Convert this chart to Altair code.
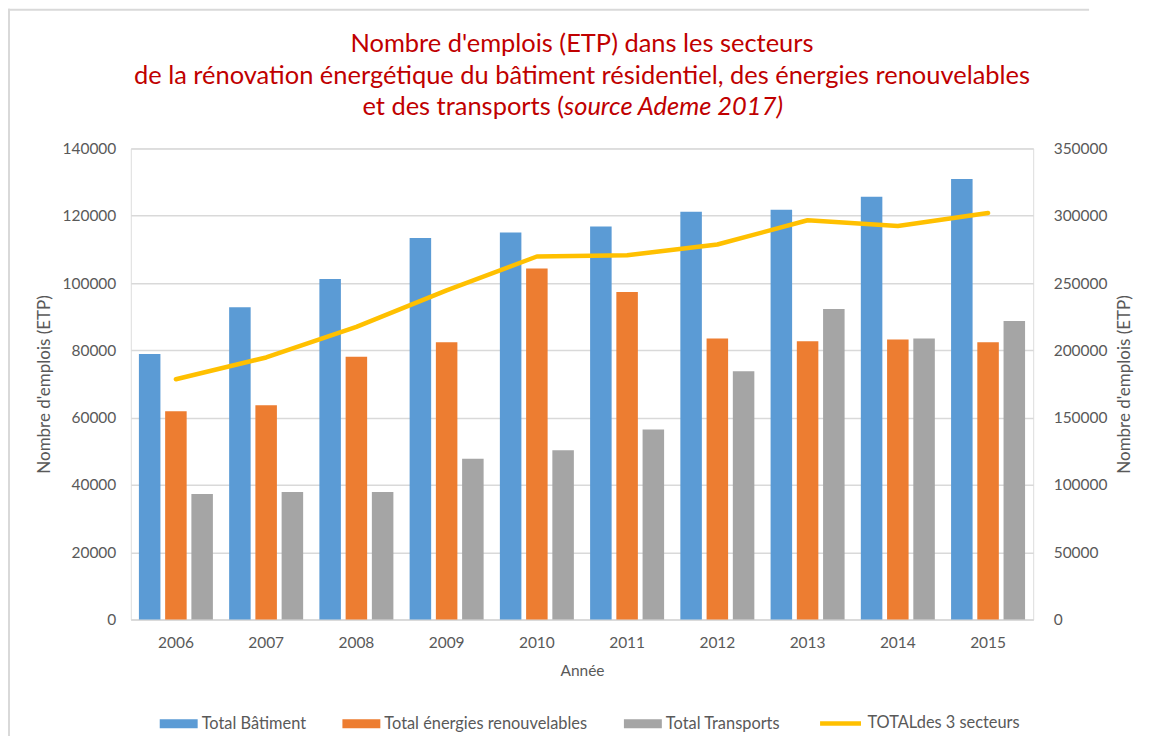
import altair as alt
import pandas as pd

years = ["2006", "2007", "2008", "2009", "2010", "2011", "2012", "2013", "2014", "2015"]
batiment = [78900, 92800, 101200, 113400, 115000, 116800, 121200, 121800, 125600, 130900]
enr = [61900, 63700, 78100, 82400, 104300, 97300, 83500, 82700, 83200, 82400]
transports = [37300, 37900, 37900, 47800, 50300, 56500, 73800, 92300, 83500, 88700]
total = [178500, 194700, 217400, 244500, 269700, 270600, 278600, 296600, 292400, 302000]

series_names = ["Total Bâtiment", "Total énergies renouvelables", "Total Transports"]
line_name = "TOTALdes 3 secteurs"
colors = ["#5B9BD5", "#ED7D31", "#A5A5A5"]
line_color = "#FFC000"

title1 = "Nombre d'emplois (ETP) dans les secteurs"
title2 = "de la rénovation énergétique du bâtiment résidentiel, des énergies renouvelables"
title3a = "et des transports ("
title3b = "source Ademe 2017)"

rows = []
for i, y in enumerate(years):
    for name, vals in zip(series_names, [batiment, enr, transports]):
        rows.append({"annee": y, "serie": name, "valeur": vals[i]})
bars_df = pd.DataFrame(rows)
line_df = pd.DataFrame({"annee": years, "ligne": [line_name] * len(years), "total": total})

FONT = "Lato"
TXT = "#595959"
FS = 15.5
TFS = 17
LFS = 16.4

x_enc = alt.X(
    "annee:N",
    scale=alt.Scale(paddingInner=0.18, paddingOuter=0.09),
    axis=alt.Axis(
        title="Année", labelAngle=0, ticks=False, domainColor="#D9D9D9", domainWidth=1.5,
        labelPadding=16, titlePadding=13, labelFontSize=FS, titleFontSize=FS,
        labelColor=TXT, titleColor=TXT, labelFont=FONT, titleFont=FONT, titleFontWeight="normal",
    ),
)

bars = alt.Chart(bars_df).mark_bar().encode(
    x=x_enc,
    xOffset=alt.XOffset("serie:N", sort=series_names, scale=alt.Scale(paddingInner=0.18, paddingOuter=0)),
    y=alt.Y(
        "valeur:Q",
        scale=alt.Scale(domain=[0, 140000], nice=False),
        axis=alt.Axis(
            title="Nombre d'emplois (ETP)", values=list(range(0, 140001, 20000)), format="d",
            ticks=False, domain=False, gridColor="#D9D9D9", gridWidth=1.5,
            labelPadding=15, titlePadding=8, labelFontSize=FS, titleFontSize=TFS,
            labelColor=TXT, titleColor=TXT, labelFont=FONT, titleFont=FONT, titleFontWeight="normal",
        ),
    ),
    color=alt.Color(
        "serie:N",
        sort=series_names,
        scale=alt.Scale(domain=series_names, range=colors),
        legend=alt.Legend(
            orient="none", legendX=29, legendY=557, direction="horizontal", title=None,
            symbolType="M-1,-0.24H1V0.24H-1Z", symbolSize=1444, symbolStrokeWidth=0,
            labelFontSize=LFS, labelColor=TXT, labelFont=FONT, labelOffset=4, labelLimit=500,
            columnPadding=36, padding=0,
        ),
    ),
)

line = alt.Chart(line_df).mark_line(strokeWidth=4.5, strokeCap="round", strokeJoin="round").encode(
    x=alt.X("annee:N"),
    y=alt.Y(
        "total:Q",
        scale=alt.Scale(domain=[0, 350000], nice=False),
        axis=alt.Axis(
            title="Nombre d'emplois (ETP)", orient="right", values=list(range(0, 350001, 50000)), format="d",
            ticks=False, domain=False, grid=False, titleAngle=270,
            labelPadding=20, titlePadding=27, labelFontSize=FS, titleFontSize=TFS,
            labelColor=TXT, titleColor=TXT, labelFont=FONT, titleFont=FONT, titleFontWeight="normal",
        ),
    ),
    stroke=alt.Stroke(
        "ligne:N",
        scale=alt.Scale(domain=[line_name], range=[line_color]),
        legend=alt.Legend(
            orient="none", legendX=688, legendY=553, direction="horizontal", title=None,
            symbolType="stroke", symbolSize=1681, symbolStrokeWidth=4.5,
            labelFontSize=LFS, labelColor=TXT, labelFont=FONT, labelOffset=4, labelLimit=500, padding=0,
        ),
    ),
)

tdf = pd.DataFrame({"a": [title1], "b": [title2], "c": [title3a], "d": [title3b]})
tbase = alt.Chart(tdf)
TS = 25.5
TC = "#C00000"
t1 = tbase.mark_text(font=FONT, fontSize=TS, color=TC, align="center", baseline="middle").encode(
    text="a:N", x=alt.value(452), y=alt.value(-105))
t2 = tbase.mark_text(font=FONT, fontSize=TS, color=TC, align="center", baseline="middle").encode(
    text="b:N", x=alt.value(452), y=alt.value(-73))
t3 = tbase.mark_text(font=FONT, fontSize=TS, color=TC, align="right", baseline="middle").encode(
    text="c:N", x=alt.value(434), y=alt.value(-41))
t4 = tbase.mark_text(font=FONT, fontSize=TS, color=TC, align="left", baseline="middle", fontStyle="italic").encode(
    text="d:N", x=alt.value(434), y=alt.value(-41))

frame_top = tbase.mark_rect(color="#D9D9D9").encode(
    x=alt.value(-123), x2=alt.value(960), y=alt.value(-140), y2=alt.value(-138))
frame_left = tbase.mark_rule(color="#D9D9D9", strokeWidth=2).encode(
    x=alt.value(-122), y=alt.value(-140), y2=alt.value(600))

chart = alt.layer(bars, line, t1, t2, t3, t4, frame_top, frame_left).resolve_scale(
    y="independent", color="independent", stroke="independent"
).properties(
    width=904, height=472,
    autosize=alt.AutoSizeParams(type="none"),
    padding={"left": 123, "top": 140, "right": 108, "bottom": 116},
).configure_view(stroke=None).configure(background="white")

chart.save("out.html", embed_options={"renderer": "svg", "actions": False})
